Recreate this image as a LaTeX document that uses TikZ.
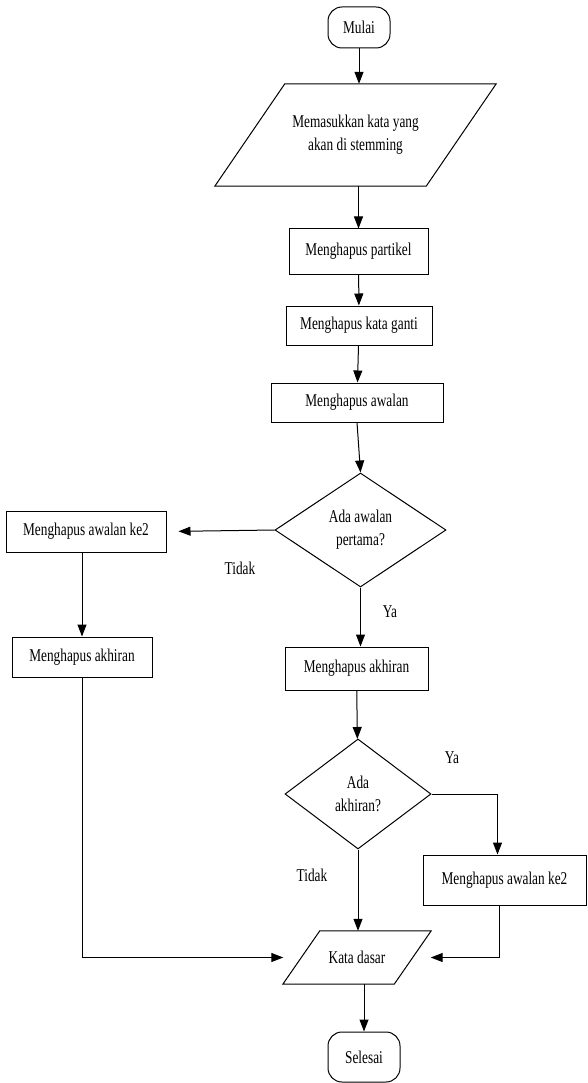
\documentclass[tikz,border=0pt]{standalone}
\usepackage{fontspec}
\setmainfont{Liberation Serif}[FakeStretch=0.74]
\usetikzlibrary{shapes.geometric,arrows.meta}

\tikzset{
    proses/.style    ={draw, line width=1pt, inner sep=0pt},
    terminal/.style  ={draw, line width=1pt, rounded corners=14pt, inner sep=0pt},
    io/.style        ={inner sep=0pt, align=center},
    bingkai/.style   ={line width=1pt},
    keputusan/.style ={draw, line width=1pt, diamond, inner sep=0pt, align=center},
    panah/.style     ={-{Triangle[length=12pt,width=9pt]}, line width=1pt},
}

\begin{document}
\begin{tikzpicture}[x=1pt, y=-1pt, every node/.style={font=\fontsize{18}{23}\selectfont}]
    \useasboundingbox (0,0) rectangle (587,1083);

    % jalur utama
    \node[terminal, minimum width=62pt, minimum height=41pt] (mulai) at (359,27.5) {Mulai};
    \node[io, minimum width=211pt, minimum height=102pt] (input) at (355.5,135)
        {Memasukkan kata yang\\akan di stemming};
    \draw[bingkai] ([xshift=35pt]input.north west) -- ([xshift=35pt]input.north east)
        -- ([xshift=-35pt]input.south east) -- ([xshift=-35pt]input.south west) -- cycle;
    \node[proses, minimum width=139pt, minimum height=45pt] (partikel) at (358.5,251.5) {Menghapus partikel};
    \node[proses, minimum width=146pt, minimum height=39pt] (ganti) at (359,325.5) {Menghapus kata ganti};
    \node[proses, minimum width=172pt, minimum height=39pt] (awalan) at (357,402.5) {Menghapus awalan};
    \node[keputusan, minimum width=171pt, minimum height=114pt] (cekawal) at (360.5,530) {Ada awalan\\pertama?};
    \node[proses, minimum width=143pt, minimum height=43pt] (akhiran) at (356.5,668.5) {Menghapus akhiran};
    \node[keputusan, minimum width=146pt, minimum height=110pt] (cekakhir) at (358,794) {Ada\\akhiran?};
    \node[io, minimum width=111pt, minimum height=53pt] (dasar) at (357,957.5) {Kata dasar};
    \draw[bingkai] ([xshift=18.5pt]dasar.north west) -- ([xshift=18.5pt]dasar.north east)
        -- ([xshift=-18.5pt]dasar.south east) -- ([xshift=-18.5pt]dasar.south west) -- cycle;
    \node[terminal, minimum width=72pt, minimum height=50pt] (selesai) at (364,1057) {Selesai};

    % cabang
    \node[proses, minimum width=160pt, minimum height=41pt] (kiriawal) at (86,531.5) {Menghapus awalan ke2};
    \node[proses, minimum width=140pt, minimum height=40pt] (kiriakhir) at (82,657) {Menghapus akhiran};
    \node[proses, minimum width=163pt, minimum height=50pt] (kananawal) at (504.5,880) {Menghapus awalan ke2};

    % label
    \node (tidak1) at (240,568) {Tidak};
    \node (ya1) at (390,612) {Ya};
    \node (ya2) at (452,758) {Ya};
    \node (tidak2) at (312,875) {Tidak};

    \draw[panah] (mulai) -- (input.north -| mulai.south);
    \draw[panah] (input.south -| partikel.north) -- (partikel);
    \draw[panah] (partikel) -- (ganti);
    \draw[panah] (ganti) -- (awalan);
    \draw[panah] (awalan.south) -- (cekawal.north);
    \draw[panah, shorten >=12pt] (cekawal.west) -- (kiriawal.east);
    \draw[panah] (kiriawal.south -| kiriakhir.north) -- (kiriakhir.north);
    \draw[panah] (cekawal.south) -- (akhiran.north -| cekawal.south);
    \draw[panah] (akhiran) -- (cekakhir);
    \draw[panah] (cekakhir.east) -| ([xshift=-7pt]kananawal.north);
    \draw[panah] (cekakhir.south) -- (dasar.north -| cekakhir.south);
    \draw[panah, shorten >=18pt] (kiriakhir.south) |- (dasar.west);
    \draw[panah, shorten >=18pt] ([xshift=-5pt]kananawal.south) |- (dasar.east);
    \draw[panah] (dasar.south -| selesai.north) -- (selesai.north);
\end{tikzpicture}
\end{document}
